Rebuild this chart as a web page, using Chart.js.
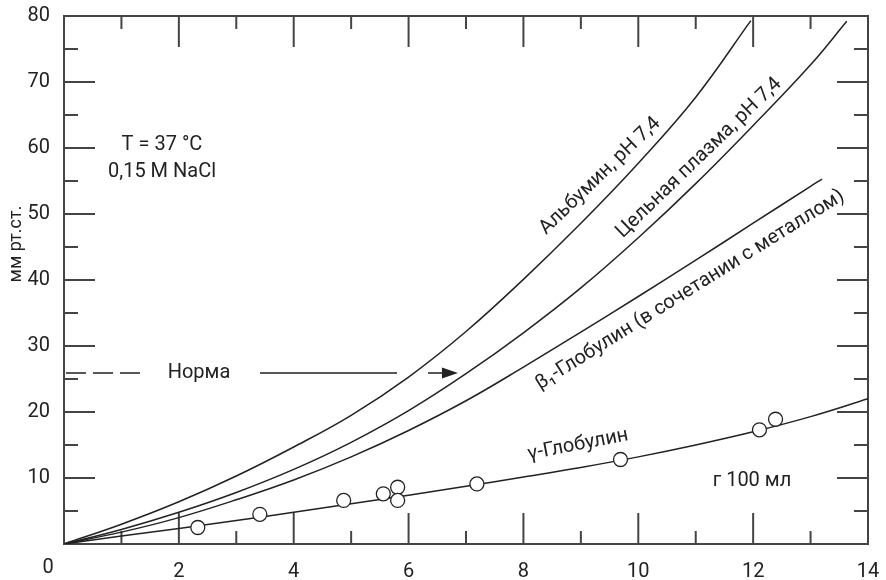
<!DOCTYPE html>
<html>
<head>
<meta charset="utf-8">
<script src="https://cdn.jsdelivr.net/npm/chart.js@4"></script>
<style>
  html, body { margin: 0; padding: 0; background: #fff; }
  canvas { display: block; }
</style>
</head>
<body>
<canvas id="chart" width="886" height="580"></canvas>
<script>
// concentration, g / 100 ml
const albuminX = [0, 1, 2, 3, 4, 5, 6, 7, 8, 9, 10, 11, 11.96]
const albuminY = [0, 3.0, 6.4, 10.3, 14.7, 19.5, 25.3, 32.2, 40.1, 48.6, 57.7, 67.7, 79.3]

const plasmaX = [0, 1, 2, 3, 4, 5, 6, 7, 8, 9, 10, 11, 12, 13, 13.63]
const plasmaY = [0, 2.2, 4.8, 7.8, 11.3, 15.4, 20.2, 25.8, 32.0, 38.8, 46.4, 54.6, 63.4, 72.6, 79.2]

const betaX = [0, 1, 2, 3, 4, 5, 6, 7, 8, 9, 10, 11, 12, 13, 13.2]
const betaY = [0, 1.8, 4.0, 6.7, 9.7, 13.2, 17.2, 21.7, 26.8, 32.1, 37.5, 43.0, 48.6, 54.2, 55.3]

const gammaX = [0, 1, 2, 3, 4, 5, 6, 7, 8, 9, 10, 11, 12, 13, 14]
const gammaY = [0, 1.2, 2.35, 3.55, 4.8, 6.1, 7.4, 8.75, 10.15, 11.6, 13.2, 15.0, 17.0, 19.3, 22.0]

// measured points on the gamma-globulin curve
const gammaPtsX = [2.33, 3.41, 4.87, 5.56, 5.81, 5.81, 7.19, 9.69, 12.11, 12.39]
const gammaPtsY = [2.5, 4.5, 6.6, 7.6, 8.6, 6.6, 9.1, 12.8, 17.3, 18.9]

const normValue = 25.9

const xTickLabels = [0, 2, 4, 6, 8, 10, 12, 14]
const yTickLabels = [10, 20, 30, 40, 50, 60, 70, 80]

const FONT = "Roboto, 'Liberation Sans', sans-serif"
const INK = "#222"
const AXIS = "#444"

const pts = (xs, ys) => xs.map((x, i) => ({ x: x, y: ys[i] }))

const curve = (data) => ({
  data: data,
  showLine: true,
  borderColor: INK,
  borderWidth: 1.5,
  pointRadius: 0,
  tension: 0.4,
  fill: false
})

// keep the plot box where the original has it: no extra room for edge labels
const noPadding = (scale) => {
  scale.paddingTop = 0
  scale.paddingBottom = 0
  scale.paddingLeft = 0
  scale.paddingRight = 0
}

const overlay = {
  id: "overlay",
  beforeDatasetsDraw(chart) {
    const { ctx, chartArea: a, scales: { x, y } } = chart
    ctx.save()
    ctx.strokeStyle = AXIS
    ctx.lineWidth = 2
    ctx.strokeRect(a.left, a.top, a.right - a.left, a.bottom - a.top)

    const seg = (x1, y1, x2, y2) => {
      ctx.beginPath(); ctx.moveTo(x1, y1); ctx.lineTo(x2, y2); ctx.stroke()
    }
    // inward ticks on all four sides
    for (let v = 1; v < 14; v++) {
      const len = v % 2 === 0 ? 31 : 13
      const px = x.getPixelForValue(v)
      seg(px, a.bottom, px, a.bottom - len)
      seg(px, a.top, px, a.top + len)
    }
    for (let v = 5; v < 80; v += 5) {
      const len = v % 10 === 0 ? 31 : 14
      const py = y.getPixelForValue(v)
      seg(a.left, py, a.left + len, py)
      seg(a.right, py, a.right - len, py)
    }
    ctx.restore()
  },
  afterDraw(chart) {
    const { ctx, chartArea: a, scales: { x, y } } = chart
    ctx.save()
    ctx.fillStyle = INK
    ctx.strokeStyle = INK
    ctx.font = "20px " + FONT
    ctx.textAlign = "center"
    ctx.textBaseline = "middle"

    // origin label, set left of the axis corner
    ctx.fillText("0", a.left - 16, a.bottom + 24)

    // axis title
    ctx.save()
    ctx.translate(16, 244)
    ctx.rotate(-Math.PI / 2)
    ctx.font = "18px " + FONT
    ctx.fillText("мм рт.ст.", 0, 0)
    ctx.restore()

    ctx.fillText("T = 37 °C", 162, 145)
    ctx.fillText("0,15 M NaCl", 162, 172)
    ctx.fillText("г 100 мл", 752, 481)

    // norm marker
    const ny = y.getPixelForValue(normValue)
    ctx.fillText("Норма", 199, ny)
    ctx.lineWidth = 1.5
    ctx.beginPath()
    ctx.moveTo(66, ny); ctx.lineTo(86, ny)
    ctx.moveTo(93, ny); ctx.lineTo(113, ny)
    ctx.moveTo(120, ny); ctx.lineTo(140, ny)
    ctx.moveTo(260, ny); ctx.lineTo(397, ny)
    ctx.moveTo(428, ny); ctx.lineTo(445, ny)
    ctx.stroke()
    const tip = x.getPixelForValue(6.86)
    ctx.beginPath()
    ctx.moveTo(tip, ny)
    ctx.lineTo(tip - 16, ny - 5.5)
    ctx.lineTo(tip - 16, ny + 5.5)
    ctx.closePath()
    ctx.fill()

    // labels along the curves
    const tilted = (text, cx, cy, deg) => {
      ctx.save()
      ctx.translate(cx, cy)
      ctx.rotate(deg * Math.PI / 180)
      ctx.fillText(text, 0, 0)
      ctx.restore()
    }
    tilted("Альбумин, pH 7,4", 600, 176, -44)
    tilted("Цельная плазма, pH 7,4", 699, 158, -44)
    tilted("β₁-Глобулин (в сочетании с металлом)", 690, 290, -32)
    tilted("γ-Глобулин", 578, 445, -11)
    ctx.restore()
  }
}

new Chart(document.getElementById("chart"), {
  type: "scatter",
  data: {
    datasets: [
      {
        data: pts(gammaPtsX, gammaPtsY),
        pointRadius: 7,
        pointHoverRadius: 7,
        pointBackgroundColor: "#fff",
        pointBorderColor: INK,
        pointBorderWidth: 1.3,
        showLine: false
      },
      curve(pts(albuminX, albuminY)),
      curve(pts(plasmaX, plasmaY)),
      curve(pts(betaX, betaY)),
      curve(pts(gammaX, gammaY))
    ]
  },
  options: {
    responsive: false,
    animation: false,
    layout: { padding: { top: 16, right: 18, left: 0, bottom: 0 } },
    plugins: {
      legend: { display: false },
      tooltip: { enabled: false }
    },
    scales: {
      x: {
        type: "linear",
        min: 0,
        max: 14,
        afterFit(scale) { scale.height = 36; noPadding(scale) },
        grid: { display: false },
        border: { display: false },
        ticks: {
          stepSize: 2,
          padding: 8,
          color: INK,
          font: { family: FONT, size: 20 },
          maxRotation: 0,
          callback: (v) => (v !== 0 && xTickLabels.includes(v) ? String(v) : "")
        }
      },
      y: {
        type: "linear",
        min: 0,
        max: 80,
        afterFit(scale) { scale.width = 64; noPadding(scale) },
        grid: { display: false },
        border: { display: false },
        ticks: {
          stepSize: 10,
          padding: 6,
          color: INK,
          font: { family: FONT, size: 20 },
          callback: (v) => (yTickLabels.includes(v) ? String(v) : "")
        }
      }
    }
  },
  plugins: [overlay]
})
</script>
</body>
</html>
